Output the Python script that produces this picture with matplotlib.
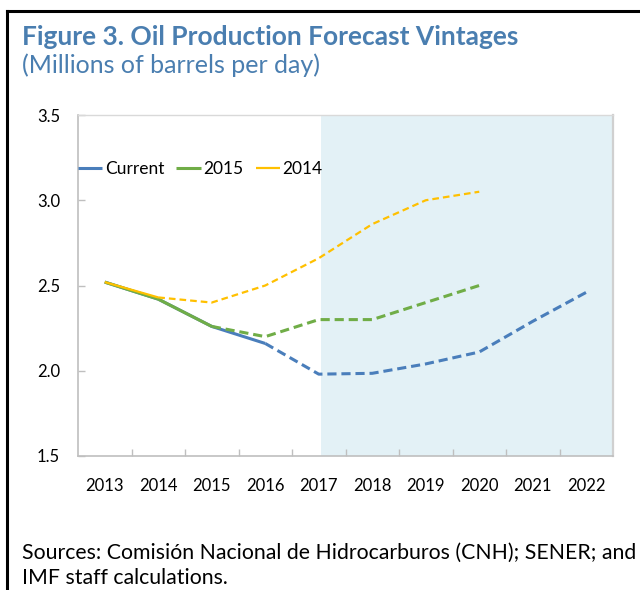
import numpy as np
import matplotlib
matplotlib.use("Agg")
import matplotlib.pyplot as plt
from matplotlib.lines import Line2D

plt.rcParams['font.family'] = ['Lato', 'DejaVu Sans']

years = ["2013", "2014", "2015", "2016", "2017", "2018", "2019", "2020", "2021", "2022"]
current = [2.52, 2.42, 2.26, 2.16, 1.98, 1.985, 2.04, 2.11, 2.29, 2.46]
vint_2015 = [2.52, 2.42, 2.26, 2.20, 2.30, 2.30, 2.40, 2.50]
vint_2014 = [2.52, 2.43, 2.40, 2.50, 2.66, 2.86, 3.00, 3.05]

# last index of actual (solid) data for each series
solid_end = {"Current": 3, "2015": 2, "2014": 1}

blue = "#4A7EBB"
green = "#70AD47"
yellow = "#FFC000"
title_col = "#4A7EB0"

fig = plt.figure(figsize=(6.4, 5.9), dpi=100)
ax = fig.add_axes([78/640, 134/590, 535/640, 341/590])

x_cur = np.arange(len(current))
x_15 = np.arange(len(vint_2015))
x_14 = np.arange(len(vint_2014))

# forecast shading
ax.axvspan(4.05, 9.5, color="#E3F1F6", zorder=0, lw=0)

def draw(x, y, n, col, lw, dash, label):
    ax.plot(x[:n+1], y[:n+1], color=col, lw=lw, solid_capstyle="butt", label=label, zorder=3)
    ax.plot(x[n:], y[n:], color=col, lw=lw, ls=(0, dash), zorder=3)

draw(x_cur, current, solid_end["Current"], blue, 2.2, (3, 1.6), "Current")
draw(x_15, vint_2015, solid_end["2015"], green, 2.2, (3, 1.6), "2015")
draw(x_14, vint_2014, solid_end["2014"], yellow, 1.6, (3, 1.8), "2014")

ax.set_xlim(-0.5, 9.5)
ax.set_ylim(1.5, 3.5)
ax.set_yticks([1.5, 2.0, 2.5, 3.0, 3.5])
ax.set_yticklabels(["1.5", "2.0", "2.5", "3.0", "3.5"])
ax.set_xticks(np.arange(0.5, 9.5, 1.0))
ax.set_xticks(np.arange(len(years)), minor=True)
ax.set_xticklabels([])
ax.set_xticklabels(years, minor=True)
ax.tick_params(axis="x", which="major", direction="in", length=5, color="#BFBFBF", width=1)
ax.tick_params(axis="x", which="minor", length=0, pad=16, labelsize=12)
ax.tick_params(axis="y", direction="in", length=5, color="#BFBFBF", width=1, pad=13, labelsize=12)

for s in ["left", "bottom"]:
    ax.spines[s].set_color("#BFBFBF")
    ax.spines[s].set_linewidth(1.2)
ax.spines["top"].set_color("#D9D9D9")
ax.spines["top"].set_linewidth(1.0)
ax.spines["right"].set_color("#D0D0D0")
ax.spines["right"].set_linewidth(1.6)

ax.legend(loc="upper left", bbox_to_anchor=(0.0, 0.866), ncol=3, frameon=False,
          fontsize=12.5, handlelength=1.4, handletextpad=0.15, columnspacing=0.7,
          borderaxespad=0, borderpad=0)

# outer frame (left and top edges)
fig.lines.append(Line2D([7/640, 7/640], [0, 1 - 11/590], transform=fig.transFigure,
                        color="black", lw=2.2))
fig.lines.append(Line2D([7/640, 1], [1 - 11/590, 1 - 11/590], transform=fig.transFigure,
                        color="black", lw=2.2))

fig.text(22/640, 1 - 45/590, "Figure 3. Oil Production Forecast Vintages", fontsize=19,
         fontweight="bold", color=title_col, va="baseline")
fig.text(22/640, 1 - 73/590, "(Millions of barrels per day)", fontsize=18,
         color=title_col, va="baseline")
fig.text(22/640, 1 - 559/590, "Sources: Comisión Nacional de Hidrocarburos (CNH); SENER; and",
         fontsize=15.3, color="black", va="baseline")
fig.text(22/640, 1 - 584/590, "IMF staff calculations.", fontsize=15.3, color="black", va="baseline")

fig.savefig("out.png", dpi=100)
